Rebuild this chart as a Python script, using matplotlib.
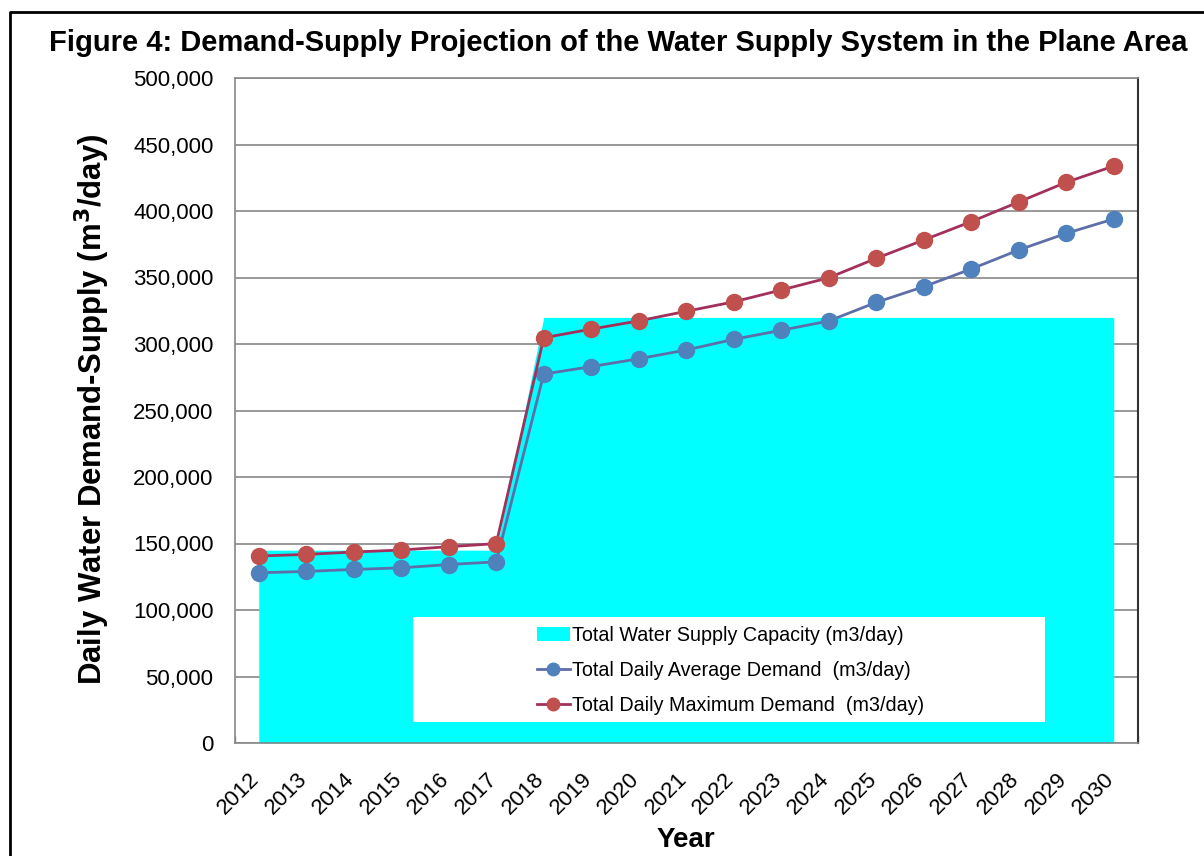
import matplotlib
matplotlib.use("Agg")
import matplotlib.pyplot as plt
import matplotlib.transforms as mtransforms
from matplotlib.patches import Rectangle, Patch
from matplotlib.lines import Line2D
from matplotlib.ticker import FuncFormatter, MultipleLocator
import numpy as np

plt.rcParams['font.family'] = ['Liberation Sans', 'DejaVu Sans']

years = [str(y) for y in range(2012, 2031)]
supply_capacity = [145000] * 6 + [320000] * 13
avg_demand = [128000, 129000, 130500, 131700, 134200, 136200,
              277400, 283000, 288900, 295500, 303500, 310300, 317300,
              331300, 343100, 356400, 370700, 383200, 394000]
max_demand = [140600, 141800, 143600, 145100, 147600, 149900,
              304700, 311200, 317400, 324600, 331700, 340600, 349800,
              364400, 378200, 392000, 406800, 421600, 433800]

title = "Figure 4: Demand-Supply Projection of the Water Supply System in the Plane Area"
label_supply = "Total Water Supply Capacity (m3/day)"
label_avg = "Total Daily Average Demand  (m3/day)"
label_max = "Total Daily Maximum Demand  (m3/day)"

W, H = 1204, 856
fig = plt.figure(figsize=(W / 100, H / 100), dpi=100)
ax = fig.add_axes([235 / W, 1 - 743 / H, 902.5 / W, 665 / H])

x = np.arange(len(years))
ax.fill_between(x, 0, supply_capacity, color='#00FFFF', lw=0, zorder=2)
ax.plot(x, avg_demand, color='#5E6EA8', lw=2, marker='o', ms=11.5,
        mfc='#4F81BD', mec='#4F81BD', zorder=4)
ax.plot(x, max_demand, color='#A3305C', lw=2, marker='o', ms=11.5,
        mfc='#C0504D', mec='#C0504D', zorder=4)

ax.set_xlim(-0.5, len(years) - 0.5)
ax.set_ylim(0, 500000)
ax.yaxis.set_major_locator(MultipleLocator(50000))
ax.yaxis.set_major_formatter(FuncFormatter(lambda v, p: f"{int(v):,}"))
ax.grid(axis='y', color='#888888', lw=1.2, zorder=1)
ax.set_axisbelow(True)

# category ticks: labels drawn at the category positions, tick marks between categories
ax.set_xticks(x)
ax.set_xticklabels([])
ax.set_xticks(np.arange(-0.5, len(years), 1.0), minor=True)
ax.tick_params(axis='x', which='major', length=0)
ax.tick_params(axis='x', which='minor', direction='in', length=5, color='#888888', width=1)
ax.tick_params(axis='y', length=0, pad=15.5, labelsize=16)
lab_trans = ax.get_xaxis_transform() + mtransforms.ScaledTranslation(5 / 100, -26 / 100, fig.dpi_scale_trans)
for xi, yr in zip(x, years):
    ax.text(xi, 0, yr, transform=lab_trans, rotation=45, ha='right', va='top',
            fontsize=16, clip_on=False)

for s in ['left', 'bottom', 'top']:
    ax.spines[s].set_color('#888888')
    ax.spines[s].set_linewidth(1.2)
ax.spines['right'].set_color('#333333')
ax.spines['right'].set_linewidth(1.5)

ax.set_ylabel("Daily Water Demand-Supply (m$\\mathbf{^3}$/day)", fontsize=22.4, fontweight='bold')
ax.yaxis.set_label_coords((112 - 235) / 902.5, 0.502)
ax.set_xlabel("Year", fontsize=20, fontweight='bold')
ax.xaxis.set_label_coords(0.4997, (743 - 827) / 665)

# legend background box
ax.add_patch(Rectangle(((413 - 235) / 902.5, (743 - 722) / 665),
                       (1045 - 413) / 902.5, (722 - 617) / 665,
                       transform=ax.transAxes, facecolor='white', edgecolor='none', zorder=5))
handles = [Patch(facecolor='#00FFFF', edgecolor='none'),
           Line2D([], [], color='#5E6EA8', lw=2, marker='o', ms=9, mfc='#4F81BD', mec='#4F81BD'),
           Line2D([], [], color='#A3305C', lw=2, marker='o', ms=9, mfc='#C0504D', mec='#C0504D')]
leg = ax.legend(handles, [label_supply, label_avg, label_max], loc='upper left',
                bbox_to_anchor=((537 - 235) / 902.5, (743 - 626) / 665),
                frameon=False, fontsize=14.2, handlelength=1.65, handletextpad=0.12,
                borderpad=0, borderaxespad=0, labelspacing=0.8)
leg.set_zorder(6)

fig.text(618 / W, 1 - 43 / H, title, fontsize=21, fontweight='bold', ha='center', va='center')

# outer frame (left and top edges visible)
fig.add_artist(Line2D([10 / W, 10 / W, 1.01], [-0.01, 1 - 12 / H, 1 - 12 / H],
                      transform=fig.transFigure, color='black', lw=2))

fig.savefig("out.png", dpi=100)
